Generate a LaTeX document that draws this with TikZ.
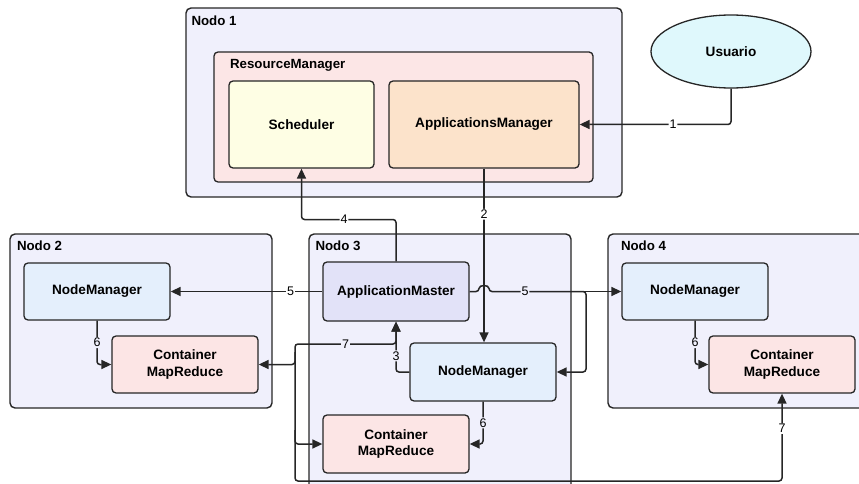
\documentclass[tikz,border=0pt]{standalone}
\usepackage{fontspec}
\setmainfont{Liberation Sans}
\usetikzlibrary{shapes.geometric,arrows.meta}

\definecolor{linec}{HTML}{262626}
\definecolor{groupbg}{HTML}{F0F0FC}
\definecolor{rmbg}{HTML}{FCE6E6}
\definecolor{schedbg}{HTML}{FEFEE4}
\definecolor{appsbg}{HTML}{FCE3CB}
\definecolor{userbg}{HTML}{DFF8FC}
\definecolor{nmbg}{HTML}{E4EFFC}
\definecolor{contbg}{HTML}{FCE5E5}
\definecolor{ambg}{HTML}{E2E2F8}

\begin{document}
\begin{tikzpicture}[x=1pt,y=-1pt,
  group/.style={draw=linec, line width=1.4pt, rounded corners=5pt, fill=groupbg, inner sep=0pt},
  box/.style={draw=linec, line width=1.3pt, rounded corners=4pt, align=center, inner sep=0pt,
              font=\bfseries\fontsize{13.6}{16.5}\selectfont},
  grouplabel/.style={anchor=base west, inner sep=0pt, font=\bfseries\fontsize{13.3}{16}\selectfont},
  conn/.style={draw=linec, line width=1.5pt, rounded corners=3pt},
  tip/.tip={Triangle[length=10pt,width=9pt]},
  arr/.style={conn, -tip},
  num/.style={inner sep=1pt, fill=white, font=\fontsize{12.5}{14}\selectfont},
  numin/.style={num, fill=groupbg},
]
\useasboundingbox (0,0) rectangle (859,484);

% ---- Nodo 1: ResourceManager ----
\node[group, minimum width=436pt, minimum height=189pt] (nodo1) at (404,102.5) {};
\node[grouplabel] (nodo1l) at ([shift={(6,18.5)}]nodo1.north west) {Nodo 1};
\node[box, fill=rmbg, minimum width=379pt, minimum height=130pt] (rm) at (403.5,117) {};
\node[grouplabel] (rml) at ([shift={(16.5,17.5)}]rm.north west) {ResourceManager};
\node[box, fill=schedbg, minimum width=145pt, minimum height=87pt] (sched) at (301.5,124.5) {Scheduler};
\node[box, fill=appsbg, minimum width=190pt, minimum height=87pt] (appsm) at (484,124.5) {ApplicationsManager};

% ---- Usuario ----
\node[ellipse, draw=linec, line width=1.3pt, fill=userbg, minimum width=160pt, minimum height=73pt,
      inner sep=0pt, font=\bfseries\fontsize{13.6}{16.5}\selectfont] (usuario) at (731,51.5) {Usuario};

% ---- Nodo 2 ----
\node[group, minimum width=262pt, minimum height=174pt] (nodo2) at (141,321) {};
\node[grouplabel] (nodo2l) at ([shift={(7.5,17.5)}]nodo2.north west) {Nodo 2};
\node[box, fill=nmbg, minimum width=146pt, minimum height=57pt] (nm2) at (97,291.5) {NodeManager};
\node[box, fill=contbg, minimum width=146pt, minimum height=57pt] (c2) at (185,364.5) {Container\\MapReduce};

% ---- Nodo 3 ----
\node[group, minimum width=262pt, minimum height=270pt] (nodo3) at (440,369) {};
\node[grouplabel] (nodo3l) at ([shift={(7,17.5)}]nodo3.north west) {Nodo 3};
\node[box, fill=ambg, minimum width=146pt, minimum height=59pt] (am) at (396,291.5) {ApplicationMaster};
\node[box, fill=nmbg, minimum width=146pt, minimum height=58pt] (nm3) at (483,372) {NodeManager};
\node[box, fill=contbg, minimum width=146pt, minimum height=58pt] (c3) at (396,444) {Container\\MapReduce};

% ---- Nodo 4 ----
\node[group, minimum width=262pt, minimum height=174pt] (nodo4) at (739,321) {};
\node[grouplabel] (nodo4l) at ([shift={(13.5,17.5)}]nodo4.north west) {Nodo 4};
\node[box, fill=nmbg, minimum width=146pt, minimum height=57pt] (nm4) at (695,291.5) {NodeManager};
\node[box, fill=contbg, minimum width=146pt, minimum height=57pt] (c4) at (782,364.5) {Container\\MapReduce};

% ---- junction points ----
\coordinate (j5) at (586,291.5);
\coordinate (j5a) at (580,291.5);
\coordinate (j7) at (295,344);
\coordinate (j7a) at (295,352);
\coordinate (j7c) at (295,430);
\coordinate (j7b) at (295,481);

% 1: client submits the application
\draw[arr] (usuario.south) |- (673,124.5) node[num] {1} -- (appsm.east);

% 2: ApplicationsManager asks a NodeManager for the AM container
\draw[arr] (appsm.south) -- node[num, pos=0.263] {2} (appsm.south |- nm3.north);

% 3: NodeManager launches the ApplicationMaster
\draw[arr] (nm3.west) -| node[numin, pos=0.66] {3} (am.south);

% 4: ApplicationMaster negotiates resources with the Scheduler
\draw[arr] (am.north) |- (344,219.5) node[num] {4} -| (sched.south);

% 5: ApplicationMaster contacts the NodeManagers
\draw[arr] (am.west) -- node[num, pos=0.21] {5} (nm2.east);
\draw[arr] (am.east) -- (479,291.5) .. controls (479,284.5) and (489,284.5) .. (489,291.5)
      -- (525,291.5) node[numin] {5} -- (j5) |- (nm3.east);
\draw[arr] (j5a) -- (nm4.west);

% 6: NodeManagers launch the containers
\draw[arr] (nm2.south) |- node[numin, pos=0.25] {6} (c2.west);
\draw[arr] (nm3.south) |- node[numin, pos=0.25] {6} (c3.east);
\draw[arr] (nm4.south) |- node[numin, pos=0.25] {6} (c4.west);

% 7: ApplicationMaster <-> containers
\draw[conn, tip-tip] (am.south) |- node[numin, pos=0.75] {7} (j7) |- (c3.west);
\draw[arr] (j7a) |- (c2.east);
\draw[arr] (j7c) -- (j7b) -| node[num, pos=0.8] {7} (c4.south);
\end{tikzpicture}
\end{document}
